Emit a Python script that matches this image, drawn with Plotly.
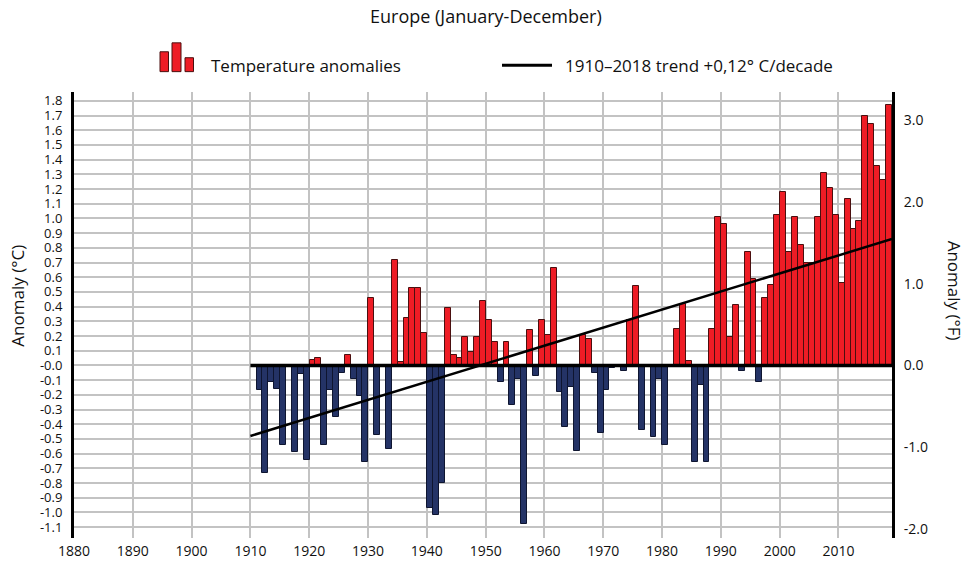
import plotly.graph_objects as go

# ---------------- data ----------------
YEARS = list(range(1911, 2019))
ANOMALIES_C = [
    -0.17, -0.73, -0.11, -0.16, -0.54, 0.00, -0.59, -0.06, -0.64,        # 1911-1919
    0.04, 0.05, -0.54, -0.17, -0.35, -0.05, 0.07, -0.09, -0.21, -0.66,  # 1920-1929
    0.46, -0.47, 0.00, -0.57, 0.72, 0.02, 0.32, 0.53, 0.53, 0.22,       # 1930-1939
    -0.97, -1.02, -0.80, 0.39, 0.07, 0.05, 0.19, 0.09, 0.19, 0.44,      # 1940-1949
    0.31, 0.16, -0.11, 0.16, -0.27, -0.09, -1.08, 0.24, -0.07, 0.31,    # 1950-1959
    0.21, 0.66, -0.18, -0.42, -0.15, -0.58, 0.21, 0.18, -0.05, -0.46,   # 1960-1969
    -0.17, -0.02, 0.00, -0.04, 0.31, 0.54, -0.44, 0.00, -0.49, -0.09,   # 1970-1979
    -0.54, 0.00, 0.25, 0.42, 0.03, -0.66, -0.13, -0.66, 0.25, 1.01,     # 1980-1989
    0.96, 0.19, 0.41, -0.04, 0.77, 0.59, -0.11, 0.46, 0.55, 1.02,       # 1990-1999
    1.18, 0.77, 1.01, 0.82, 0.70, 0.70, 1.01, 1.31, 1.21, 1.02,         # 2000-2009
    0.56, 1.13, 0.93, 0.98, 1.70, 1.64, 1.36, 1.26, 1.77,               # 2010-2018
]
TREND_YEARS = [1910, 2019.1]
TREND_VALUES = [-0.48, 0.86]
BASELINE_YEARS = [1910, 2019.1]
BASELINE_VALUES = [0.0, 0.0]

X_TICKS = list(range(1880, 2011, 10))
Y_TICKS_C = [round(-1.1 + 0.1 * i, 1) for i in range(30)]
Y_TICK_LABELS_C = ["-0.0" if abs(v) < 1e-9 else f"{v:.1f}" for v in Y_TICKS_C]
Y_TICKS_F = [-2, -1, 0, 1, 2, 3]
Y_TICK_LABELS_F = ["-2.0", "-1.0", "0.0", "1.0", "2.0", "3.0"]

TITLE = "Europe (January-December)"
LEGEND_BARS = "Temperature anomalies"
LEGEND_TREND = "1910\u20132018 trend +0,12\u00b0 C/decade"
Y_TITLE_C = "Anomaly (\u00b0C)"
Y_TITLE_F = "Anomaly (\u00b0F)"

# ---------------- style ----------------
RED = "#ee1c25"
BLUE = "#243366"
RED_EDGE = "#4a0f0f"
BLUE_EDGE = "#0e1530"
GRID = "#c3c3c3"
FONT = "Open Sans"

W, H = 967, 572
L, R, T, B = 74, 75, 92, 31
PW, PH = W - L - R, H - T - B

Y_RANGE = [-1.174, 1.860]
X_RANGE = [1880, 2019.1]


def px_x(px):
    return (px - L) / PW


def px_y(py):
    return (H - B - py) / PH


colors = [RED if v >= 0 else BLUE for v in ANOMALIES_C]
edges = [RED_EDGE if v >= 0 else BLUE_EDGE for v in ANOMALIES_C]

fig = go.Figure()
fig.add_trace(go.Bar(
    x=YEARS, y=ANOMALIES_C, width=1, offset=0.05,
    marker=dict(color=colors, line=dict(color=edges, width=1)),
    showlegend=False, hoverinfo="x+y",
))
fig.add_trace(go.Scatter(
    x=BASELINE_YEARS, y=BASELINE_VALUES, mode="lines",
    line=dict(color="black", width=3.5), showlegend=False, hoverinfo="skip",
))
fig.add_trace(go.Scatter(
    x=TREND_YEARS, y=TREND_VALUES, mode="lines",
    line=dict(color="black", width=2.5), showlegend=False, hoverinfo="skip",
))
fig.add_trace(go.Scatter(
    x=[], y=[], yaxis="y2", showlegend=False, hoverinfo="skip",
))

shapes = []
# legend icon: three small red bars
for (x0, x1, top) in [(160, 168.5, 51.5), (172, 181, 42.5), (185, 193.5, 57.5)]:
    shapes.append(dict(type="rect", xref="paper", yref="paper",
                       x0=px_x(x0), x1=px_x(x1), y0=px_y(71.5), y1=px_y(top),
                       fillcolor=RED, line=dict(color=RED_EDGE, width=1)))
shapes.append(dict(type="line", xref="paper", yref="paper",
                   x0=px_x(502), x1=px_x(552), y0=px_y(65), y1=px_y(65),
                   line=dict(color="black", width=3)))

annotations = [
    dict(text=TITLE, xref="paper", yref="paper", x=px_x(486), y=px_y(15),
         xanchor="center", yanchor="middle", showarrow=False,
         font=dict(family=FONT, size=18, color="#111")),
    dict(text=LEGEND_BARS, xref="paper", yref="paper", x=px_x(209), y=px_y(65),
         xanchor="left", yanchor="middle", showarrow=False,
         font=dict(family=FONT, size=17, color="#111")),
    dict(text=LEGEND_TREND, xref="paper", yref="paper", x=px_x(563), y=px_y(65),
         xanchor="left", yanchor="middle", showarrow=False,
         font=dict(family=FONT, size=17, color="#111")),
    dict(text=Y_TITLE_C, xref="paper", yref="paper", x=px_x(18), y=px_y(297),
         xanchor="center", yanchor="middle", showarrow=False, textangle=-90,
         font=dict(family=FONT, size=17, color="#111")),
    dict(text=Y_TITLE_F, xref="paper", yref="paper", x=px_x(954), y=px_y(292),
         xanchor="center", yanchor="middle", showarrow=False, textangle=90,
         font=dict(family=FONT, size=17, color="#111")),
]

fig.update_layout(
    width=W, height=H,
    margin=dict(l=L, r=R, t=T, b=B, pad=0),
    paper_bgcolor="white", plot_bgcolor="white",
    font=dict(family=FONT, size=14, color="#111"),
    bargap=0,
    showlegend=False,
    shapes=shapes,
    annotations=annotations,
    xaxis=dict(
        range=X_RANGE, tickvals=X_TICKS, ticktext=[str(v) for v in X_TICKS],
        showgrid=True, gridcolor=GRID, gridwidth=2,
        showline=False, zeroline=False, ticks="", ticklabelstandoff=3,
        tickfont=dict(family=FONT, size=14, color="#111"),
    ),
    yaxis=dict(
        range=Y_RANGE, tickvals=Y_TICKS_C, ticktext=Y_TICK_LABELS_C,
        showgrid=True, gridcolor=GRID, gridwidth=2,
        showline=True, linecolor="black", linewidth=3,
        zeroline=False, ticks="", ticklabelstandoff=6,
        tickfont=dict(family=FONT, size=13, color="#111"),
    ),
    yaxis2=dict(
        range=[Y_RANGE[0] * 1.8, Y_RANGE[1] * 1.8], overlaying="y", side="right",
        tickvals=Y_TICKS_F, ticktext=Y_TICK_LABELS_F,
        showgrid=False, showline=True, linecolor="black", linewidth=3,
        zeroline=False, ticks="", ticklabelstandoff=6,
        tickfont=dict(family=FONT, size=14, color="#111"),
    ),
)

fig.write_html(
    "out.html",
    config={"displayModeBar": False},
    post_script="document.body.style.margin='0';document.body.style.overflow='hidden';",
)
